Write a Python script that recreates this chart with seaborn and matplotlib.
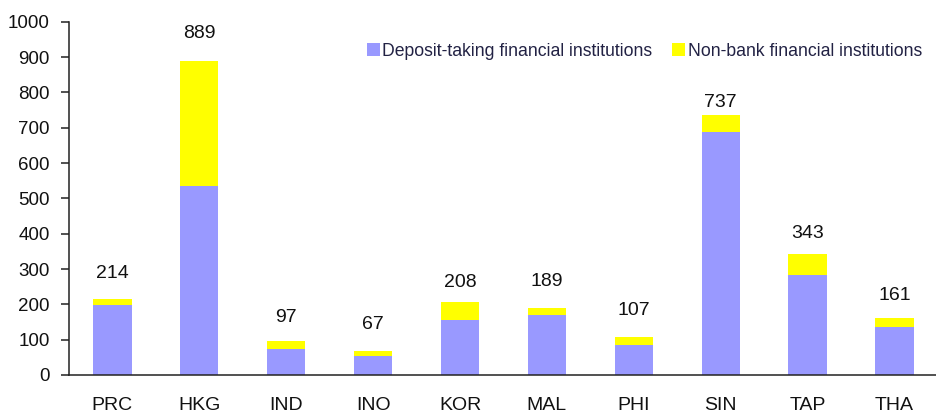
import pandas as pd
import matplotlib.pyplot as plt
import seaborn as sns

economies = ['PRC', 'HKG', 'IND', 'INO', 'KOR', 'MAL', 'PHI', 'SIN', 'TAP', 'THA']
totals = [214, 889, 97, 67, 208, 189, 107, 737, 343, 161]
deposit = [198, 535, 75, 55, 157, 170, 86, 688, 282, 136]

# vertical offset (points) of each total label above its bar, as placed in the original
label_offsets = [19, 20, 17, 19, 14, 19, 19, 9, 15, 16]

df = pd.DataFrame({'Economy': economies, 'Total': totals, 'Deposit': deposit})

sns.set_style('white')
plt.rcParams['font.family'] = ['Liberation Sans', 'DejaVu Sans']

fig = plt.figure(figsize=(9.37, 4.15), dpi=100)
ax = fig.add_axes([0.0736, 0.0964, 0.9274, 0.851])

# total bar in yellow, deposit-taking part drawn over it
sns.barplot(x='Economy', y='Total', data=df, color='#FFFF00', width=0.44,
            saturation=1, linewidth=0, ax=ax, label='Non-bank financial institutions')
sns.barplot(x='Economy', y='Deposit', data=df, color='#9999FF', width=0.44,
            saturation=1, linewidth=0, ax=ax, label='Deposit-taking financial institutions')

for i, t in enumerate(totals):
    ax.annotate(str(t), (i, t), xytext=(0, label_offsets[i]), textcoords='offset points',
                ha='center', va='center', fontsize=14, color='#111111')

ax.set_xlim(-0.5, 9.5)
ax.set_ylim(0, 1000)
ax.set_yticks(range(0, 1001, 100))
ax.set_xlabel('')
ax.set_ylabel('')
ax.set_xticks([i - 0.5 for i in range(11)], minor=True)
ax.tick_params(axis='x', which='major', length=0, pad=16, labelsize=14, labelcolor='#111111')
ax.tick_params(axis='x', which='minor', length=6, width=1.1, color='#222222', direction='out')
ax.tick_params(axis='y', length=6, width=1.1, color='#222222', direction='out', pad=8,
               labelsize=13.5, labelcolor='#111111', left=True)

for s in ['top', 'right']:
    ax.spines[s].set_visible(False)
for s in ['left', 'bottom']:
    ax.spines[s].set_color('#222222')
    ax.spines[s].set_linewidth(1.1)

h, l = ax.get_legend_handles_labels()
ax.legend(h[::-1], l[::-1], loc='upper right', bbox_to_anchor=(1.0, 0.985), ncol=2,
          frameon=False, fontsize=12.7, handlelength=0.75, handleheight=0.75,
          handletextpad=0.15, columnspacing=1.1, labelcolor='#222244')

plt.savefig('out.png', dpi=100)
plt.close()
